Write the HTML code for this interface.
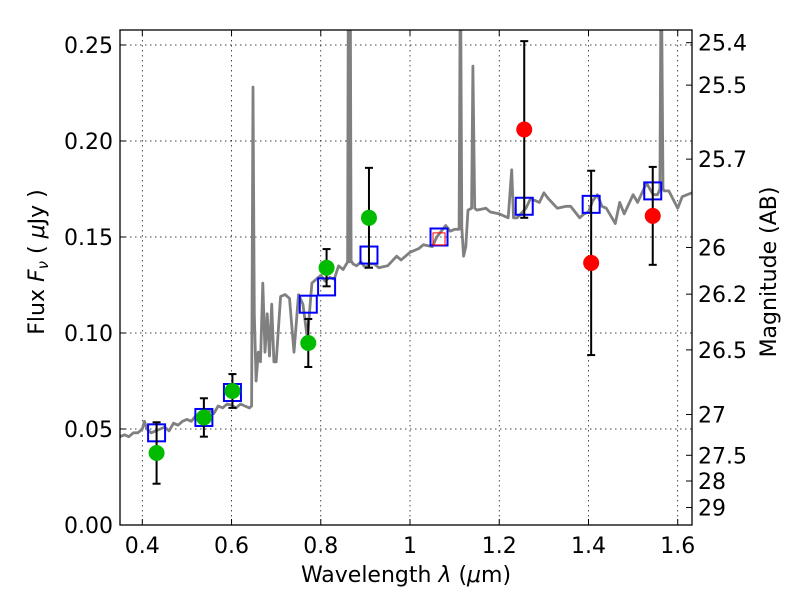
<!DOCTYPE html>
<html><head><meta charset="utf-8"><style>
html,body{margin:0;padding:0;background:#fff;}
svg{display:block;font-family:"DejaVu Sans","Liberation Sans",sans-serif;}
</style></head><body>
<svg id="chart" width="800" height="600"></svg>
<script>
const specLam=[0.35,0.36,0.37,0.38,0.39,0.40,0.405,0.41,0.42,0.43,0.44,0.45,0.46,0.47,0.48,0.49,0.5,0.51,0.52,0.53,0.55,0.56,0.57,0.58,0.59,0.6,0.61,0.62,0.63,0.64,0.645,0.648,0.651,0.655,0.66,0.665,0.67,0.675,0.68,0.685,0.69,0.695,0.70,0.71,0.72,0.73,0.74,0.75,0.76,0.77,0.78,0.79,0.80,0.81,0.82,0.83,0.84,0.85,0.86,0.862,0.864,0.866,0.868,0.870,0.872,0.88,0.89,0.9,0.91,0.92,0.93,0.95,0.97,0.98,1.0,1.02,1.03,1.05,1.06,1.08,1.09,1.1,1.11,1.113,1.116,1.12,1.125,1.13,1.138,1.141,1.145,1.15,1.17,1.18,1.2,1.22,1.228,1.232,1.24,1.26,1.27,1.29,1.3,1.31,1.33,1.35,1.36,1.38,1.39,1.4,1.41,1.42,1.43,1.44,1.46,1.47,1.48,1.5,1.51,1.53,1.545,1.555,1.56,1.563,1.567,1.57,1.58,1.6,1.61,1.632];
const specFlux=[0.046,0.047,0.046,0.048,0.048,0.050,0.054,0.050,0.048,0.049,0.050,0.051,0.049,0.053,0.052,0.054,0.055,0.054,0.057,0.056,0.060,0.058,0.062,0.061,0.063,0.0625,0.061,0.063,0.062,0.061,0.062,0.228,0.11,0.075,0.09,0.085,0.126,0.09,0.11,0.088,0.115,0.085,0.085,0.119,0.12,0.118,0.09,0.12,0.115,0.097,0.126,0.128,0.13,0.127,0.129,0.128,0.135,0.133,0.137,0.3,0.137,0.3,0.137,0.137,0.136,0.135,0.137,0.134,0.136,0.136,0.134,0.135,0.14,0.138,0.142,0.144,0.146,0.145,0.150,0.156,0.153,0.154,0.154,0.3,0.155,0.14,0.145,0.164,0.165,0.239,0.165,0.164,0.165,0.163,0.162,0.160,0.185,0.16,0.16,0.165,0.170,0.168,0.173,0.170,0.165,0.166,0.166,0.160,0.162,0.163,0.169,0.172,0.166,0.165,0.157,0.168,0.162,0.172,0.168,0.178,0.172,0.172,0.175,0.3,0.175,0.174,0.174,0.165,0.171,0.173];
const obsLam=[0.432,0.538,0.602,0.772,0.813,0.908,1.256,1.406,1.544];
const obsFlux=[0.0375,0.056,0.0698,0.0948,0.134,0.160,0.206,0.1365,0.161];
const obsErr=[0.016,0.010,0.0088,0.0125,0.0097,0.026,0.046,0.048,0.0255];
const obsColor=['#00bb00','#00bb00','#00bb00','#00bb00','#00bb00','#00bb00','#ff0000','#ff0000','#ff0000'];
const modLam=[0.432,0.538,0.602,0.772,0.813,0.908,1.065,1.256,1.406,1.544];
const modFlux=[0.048,0.056,0.069,0.115,0.124,0.1406,0.150,0.166,0.167,0.174];
const xTicks=[0.4,0.6,0.8,1.0,1.2,1.4,1.6];
const xTickLabels=['0.4','0.6','0.8','1','1.2','1.4','1.6'];
const yTicks=[0,0.05,0.10,0.15,0.20,0.25];
const yTickLabels=['0.00','0.05','0.10','0.15','0.20','0.25'];
const magTicks=[25.4,25.5,25.7,26,26.2,26.5,27,27.5,28,29];
const magLabels=['25.4','25.5','25.7','26','26.2','26.5','27','27.5','28','29'];

const L=120,R=692,T=30,B=525;
const xmin=0.35,xmax=1.632,ymin=0,ymax=0.2578;
const X=v=>L+(v-xmin)/(xmax-xmin)*(R-L);
const Y=v=>B-(v-ymin)/(ymax-ymin)*(B-T);
const NS='http://www.w3.org/2000/svg';
const svg=document.getElementById('chart');
function mk(tag,attrs,parent){const e=document.createElementNS(NS,tag);for(const k in attrs)e.setAttribute(k,attrs[k]);(parent||svg).appendChild(e);return e;}

const defs=mk('defs',{});
const cp=mk('clipPath',{id:'clip'},defs);mk('rect',{x:L,y:T,width:R-L,height:B-T},cp);

const grid=mk('g',{});


xTicks.forEach(t=>{mk('line',{x1:X(t),x2:X(t),y1:T,y2:B,stroke:'#000','stroke-width':0.7,'stroke-dasharray':'1.5,3.5'},grid);});
yTicks.forEach(t=>{mk('line',{x1:L,x2:R,y1:Y(t),y2:Y(t),stroke:'#000','stroke-width':0.7,'stroke-dasharray':'1.5,3.5'},grid);});

const g=mk('g',{'clip-path':'url(#clip)'});
const pts=specLam.map((l,i)=>X(l).toFixed(1)+','+Y(specFlux[i]).toFixed(1)).join(' ');
const sp=mk('polyline',{points:pts,fill:'none',stroke:'#808080','stroke-width':2.8,'stroke-linejoin':'round'},g);



modLam.forEach((l,i)=>{
  const r=mk('rect',{x:X(l)-8.5,y:Y(modFlux[i])-8.5,width:17,height:17,fill:'none',stroke:'#0000ff','stroke-width':2},g);
  
  
});
const rs=mk('rect',{x:X(modLam[6])-6,y:Y(0.149)-6,width:12,height:12,fill:'none',stroke:'#ff0000','stroke-width':1},g);



obsLam.forEach((l,i)=>{
  const x=X(l),y1=Y(obsFlux[i]-obsErr[i]),y2=Y(obsFlux[i]+obsErr[i]);
  const eb=mk('g',{},g);
  
  
  mk('line',{x1:x,x2:x,y1:y1,y2:y2,stroke:'#000','stroke-width':2},eb);
  mk('line',{x1:x-4,x2:x+4,y1:y1,y2:y1,stroke:'#000','stroke-width':2},eb);
  mk('line',{x1:x-4,x2:x+4,y1:y2,y2:y2,stroke:'#000','stroke-width':2},eb);
  const c=mk('circle',{cx:x,cy:Y(obsFlux[i]),r:8,fill:obsColor[i]},g);
  
  
});

const fr=mk('rect',{x:L,y:T,width:R-L,height:B-T,fill:'none',stroke:'#000','stroke-width':1.3});



xTicks.forEach((t,i)=>{
  mk('line',{x1:X(t),x2:X(t),y1:B,y2:B-6,stroke:'#000'});
  mk('line',{x1:X(t),x2:X(t),y1:T,y2:T+6,stroke:'#000'});
  const tx=mk('text',{x:X(t),y:B+28,'text-anchor':'middle','font-size':22});
  tx.textContent=xTickLabels[i];
  
  
});
yTicks.forEach((t,i)=>{
  mk('line',{x1:L,x2:L+6,y1:Y(t),y2:Y(t),stroke:'#000'});
  const tx=mk('text',{x:L-7,y:Y(t)+8,'text-anchor':'end','font-size':22});
  tx.textContent=yTickLabels[i];
  
  
});
magTicks.forEach((m,i)=>{
  const f=Math.pow(10,(23.9-m)/2.5);const y=Y(f);
  mk('line',{x1:R,x2:R-6,y1:y,y2:y,stroke:'#000'});
  const tx=mk('text',{x:R+6,y:y+8,'text-anchor':'start','font-size':22});
  tx.textContent=magLabels[i];
  
  
});
</script>
<svg style="position:absolute;left:0;top:0" width="800" height="600">
<text x="406" y="582" text-anchor="middle" font-size="22" font-family="DejaVu Sans, Liberation Sans, sans-serif">Wavelength  <tspan font-style="italic">λ</tspan> (<tspan font-style="italic">μ</tspan>m)</text>
<text transform="translate(44,262) rotate(-90)" text-anchor="middle" font-size="22" font-family="DejaVu Sans, Liberation Sans, sans-serif">Flux  <tspan font-style="italic">F</tspan><tspan font-style="italic" font-size="15" dy="4">ν</tspan><tspan dy="-4">  ( </tspan><tspan font-style="italic">μ</tspan>Jy )</text>
<text transform="translate(776,272) rotate(-90)" text-anchor="middle" font-size="22" font-family="DejaVu Sans, Liberation Sans, sans-serif">Magnitude (AB)</text>
</svg>
</body></html>
